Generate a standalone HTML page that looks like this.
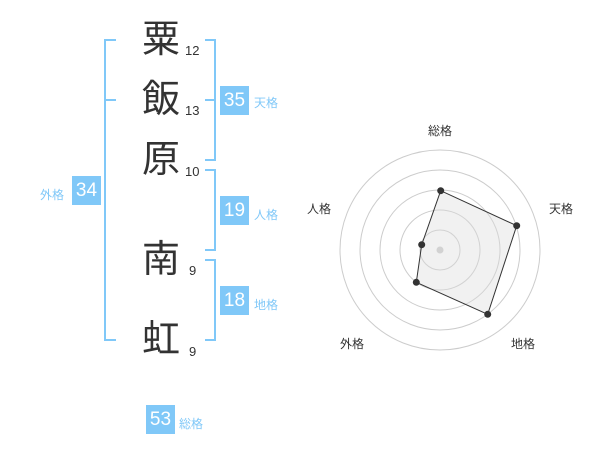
<!DOCTYPE html>
<html><head><meta charset="utf-8"><style>
body{margin:0;width:600px;height:470px;background:#fff;position:relative;font-family:"Liberation Sans","Noto Sans CJK JP",sans-serif;overflow:hidden}
.k{position:absolute;font-size:38px;color:#333;width:40px;text-align:center;line-height:40px;left:141px}
.n{position:absolute;font-size:13px;color:#333}
.b{position:absolute;background:#80c8f8;color:#fff;font-size:19px;width:29px;height:29px;line-height:29px;text-align:center}
.l{position:absolute;font-size:12px;color:#80c8f8}
.r{position:absolute;font-size:12px;color:#333}
</style></head><body>
<svg width="600" height="470" style="position:absolute;left:0;top:0">
<g stroke="#80c8f8" stroke-width="2" fill="none">
<path d="M116 40H105V340H116M105 100H116"/>
<path d="M205 40H215V160H205M215 100H205"/>
<path d="M205 170H215V250H205"/>
<path d="M205 260H215V340H205"/>
</g>
<g stroke="#ccc" fill="none" stroke-width="1">
<circle cx="440" cy="250" r="100"/><circle cx="440" cy="250" r="80"/><circle cx="440" cy="250" r="60"/><circle cx="440" cy="250" r="40"/><circle cx="440" cy="250" r="20"/>
</g>
<circle cx="440" cy="250" r="3.5" fill="#ccc"/>
<polygon points="440.7,190.7 516.7,225.7 487.7,314.3 416.3,282.3 421.7,244.7" fill="rgba(220,220,220,0.4)" stroke="#333" stroke-width="1"/>
<g fill="#333"><circle cx="440.7" cy="190.7" r="3.5"/><circle cx="516.7" cy="225.7" r="3.5"/><circle cx="487.7" cy="314.3" r="3.5"/><circle cx="416.3" cy="282.3" r="3.5"/><circle cx="421.7" cy="244.7" r="3.5"/></g>
</svg>
<div class="k" style="top:20px">粟</div><div class="n" style="left:185px;top:43px">12</div>
<div class="k" style="top:80px">飯</div><div class="n" style="left:185px;top:103px">13</div>
<div class="k" style="top:140px">原</div><div class="n" style="left:185px;top:164px">10</div>
<div class="k" style="top:240px">南</div><div class="n" style="left:189px;top:263px">9</div>
<div class="k" style="top:320px">虹</div><div class="n" style="left:189px;top:344px">9</div>
<div class="b" style="left:220px;top:86px">35</div><div class="l" style="left:254px;top:94px">天格</div>
<div class="b" style="left:220px;top:196px">19</div><div class="l" style="left:254px;top:206px">人格</div>
<div class="b" style="left:220px;top:286px">18</div><div class="l" style="left:254px;top:296px">地格</div>
<div class="b" style="left:72px;top:176px">34</div><div class="l" style="left:40px;top:186px">外格</div>
<div class="b" style="left:146px;top:405px">53</div><div class="l" style="left:179px;top:415px">総格</div>
<div class="r" style="left:428px;top:122px">総格</div>
<div class="r" style="left:549px;top:200px">天格</div>
<div class="r" style="left:511px;top:335px">地格</div>
<div class="r" style="left:340px;top:335px">外格</div>
<div class="r" style="left:307px;top:200px">人格</div>
</body></html>
